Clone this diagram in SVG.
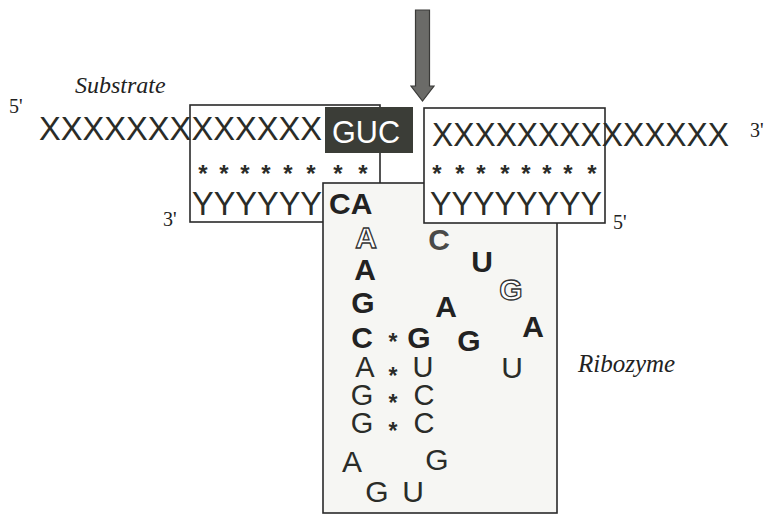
<svg xmlns="http://www.w3.org/2000/svg" width="777" height="517" viewBox="0 0 777 517">
  <defs>
    <style>
      .seq { font-family: "Liberation Sans", Arial, sans-serif; font-size: 33px; fill: #2a2c28; }
      .lbl { font-family: "Liberation Serif", "Times New Roman", serif; font-style: italic; fill: #222; }
      .end { font-family: "Liberation Serif", "Times New Roman", serif; font-size: 20px; fill: #222; }
      .ast { font-family: "Liberation Sans", Arial, sans-serif; font-size: 24px; font-weight: bold; fill: #2a2c28; text-anchor: middle; }
      .ast2 { font-family: "Liberation Sans", Arial, sans-serif; font-size: 23px; font-weight: bold; fill: #2a2c28; text-anchor: middle; }
      .nb { font-family: "Liberation Sans", Arial, sans-serif; font-size: 30px; font-weight: bold; fill: #222; text-anchor: middle; }
      .nbs { font-family: "Liberation Sans", Arial, sans-serif; font-size: 30px; font-weight: bold; fill: #222; text-anchor: start; }
      .gray { fill: #4a4a48; }
      .nr { font-family: "Liberation Sans", Arial, sans-serif; font-size: 30px; fill: #2a2c28; text-anchor: middle; }
      .ns { font-family: "Liberation Sans", Arial, sans-serif; font-size: 29px; fill: #2a2c28; text-anchor: middle; }
      .no { font-family: "Liberation Sans", Arial, sans-serif; font-size: 30px; font-weight: bold; fill: #fff; stroke: #333; stroke-width: 1.3; text-anchor: middle; }
      .box { fill: #fff; stroke: #2a2a2a; stroke-width: 1.6; }
    </style>
  </defs>
  <rect width="777" height="517" fill="#fff"/>

  <g id="substrate-label">
    <text class="lbl" x="75" y="93" font-size="24">Substrate</text>
  </g>

  <g id="left-duplex">
    <rect class="box" x="190" y="105" width="190" height="117"/>
    <text class="end" x="9" y="113">5'</text>
    <text class="seq" x="39" y="140" textLength="283" lengthAdjust="spacingAndGlyphs">XXXXXXXXXXXXX</text>
    <g class="ast">
      <text x="203" y="182">*</text><text x="224" y="182">*</text><text x="245" y="182">*</text><text x="266" y="182">*</text>
      <text x="288" y="182">*</text><text x="311" y="182">*</text><text x="338" y="182">*</text><text x="363" y="182">*</text>
    </g>
    <text class="seq" x="192" y="215" textLength="130" lengthAdjust="spacingAndGlyphs">YYYYYY</text>
    <text class="end" x="163" y="226">3'</text>
  </g>

  <g id="cleavage-site">
    <rect x="325" y="107" width="88" height="46" fill="#3b3d37"/>
    <text x="332" y="143" font-family="Liberation Sans, Arial, sans-serif" font-size="31" fill="#fff" textLength="68" lengthAdjust="spacingAndGlyphs">GUC</text>
  </g>

  <g id="ribozyme">
    <rect x="323" y="183" width="234" height="330" fill="#f6f6f3" stroke="#2a2a2a" stroke-width="1.6"/>
    <text class="nbs" x="329" y="214">CA</text>
    <text class="no" x="366" y="248">A</text>
    <text class="nb" x="365" y="280">A</text>
    <text class="nb" x="363" y="313">G</text>
    <text class="nb gray" x="439" y="250">C</text>
    <text class="nb" x="482" y="272">U</text>
    <text class="no" x="511" y="300">G</text>
    <text class="nb" x="446" y="317">A</text>
    <text class="nb" x="533" y="337">A</text>
    <text class="nb" x="362" y="348">C</text>
    <text class="nb" x="419" y="348">G</text>
    <text class="nb" x="469" y="351">G</text>
    <text class="nr" x="512" y="378">U</text>
    <text class="ns" x="365" y="377">A</text>
    <text class="ns" x="423" y="377">U</text>
    <text class="ns" x="362" y="405">G</text>
    <text class="ns" x="424" y="405">C</text>
    <text class="ns" x="362" y="433">G</text>
    <text class="ns" x="424" y="433">C</text>
    <text class="nr" x="352" y="472">A</text>
    <text class="nr" x="437" y="470">G</text>
    <text class="nr" x="377" y="502">G</text>
    <text class="nr" x="413" y="502">U</text>
    <g class="ast2">
      <text x="393" y="350">*</text><text x="393" y="384">*</text><text x="393" y="411">*</text><text x="393" y="439">*</text>
    </g>
  </g>

  <g id="right-duplex">
    <rect class="box" x="424" y="108" width="181" height="115"/>
    <text class="seq" x="432" y="146" textLength="297" lengthAdjust="spacingAndGlyphs">XXXXXXXXXXXXXX</text>
    <text class="end" x="750" y="137">3'</text>
    <g class="ast">
      <text x="437" y="182">*</text><text x="460" y="182">*</text><text x="481" y="182">*</text><text x="505" y="182">*</text>
      <text x="526" y="182">*</text><text x="547" y="182">*</text><text x="568" y="182">*</text><text x="592" y="182">*</text>
    </g>
    <text class="seq" x="430" y="215" textLength="172" lengthAdjust="spacingAndGlyphs">YYYYYYYY</text>
    <text class="end" x="613" y="229">5'</text>
  </g>

  <g id="ribozyme-label">
    <text class="lbl" x="578" y="372" font-size="25">Ribozyme</text>
  </g>

  <g id="connectors">
    <path d="M415.5,10 L429.5,10 L429.5,86 L434,86 L422.5,101 L411,86 L415.5,86 Z" fill="#6b6b68" stroke="#3a3a38" stroke-width="1.2"/>
  </g>
</svg>
